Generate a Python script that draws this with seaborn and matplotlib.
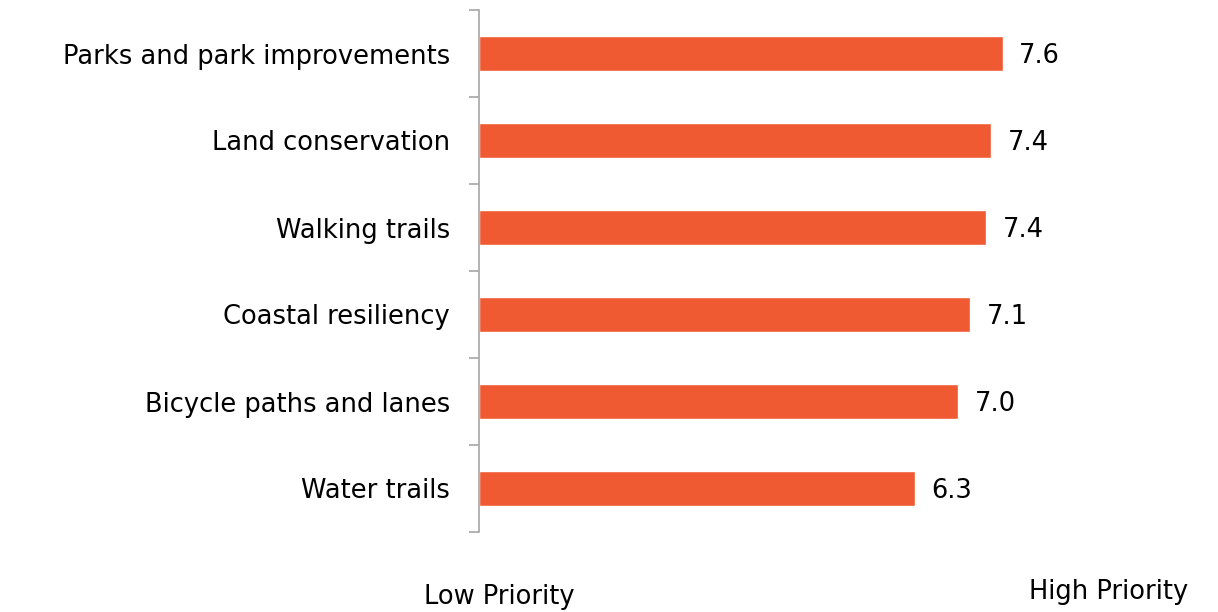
import matplotlib
matplotlib.use("Agg")
import matplotlib.pyplot as plt
import seaborn as sns
import pandas as pd
from matplotlib.ticker import FixedLocator

categories = ["Parks and park improvements", "Land conservation", "Walking trails",
              "Coastal resiliency", "Bicycle paths and lanes", "Water trails"]
values = [7.59, 7.42, 7.35, 7.12, 6.94, 6.32]
value_labels = ["7.6", "7.4", "7.4", "7.1", "7.0", "6.3"]
axis_labels = ["Low Priority", "High Priority"]

sns.set_theme(style="white")
plt.rcParams['font.family'] = ['DejaVu Sans']

df = pd.DataFrame({"category": categories, "value": values})

FS = 18.5
fig = plt.figure(figsize=(12.18, 6.12), dpi=100)
ax = fig.add_axes([479/1218, 1-532/612, (1169-479)/1218, 522/612])
sns.barplot(data=df, y="category", x="value", orient="h", color="#F05A33",
            saturation=1, width=0.4, ax=ax)
ax.set_xlim(0, 10)
ax.set_ylim(len(categories)-0.5, -0.5)
ax.set_xlabel("")
ax.set_ylabel("")
ax.set_xticks([])
for s in ["top", "right", "bottom"]:
    ax.spines[s].set_visible(False)
ax.spines["left"].set_color("#A6A6A6")
ax.spines["left"].set_linewidth(1.2)
ax.yaxis.set_minor_locator(FixedLocator([i-0.5 for i in range(len(categories)+1)]))
ax.tick_params(axis="y", which="minor", left=True, length=7, width=1.2, color="#A6A6A6")
ax.tick_params(axis="y", which="major", left=False, length=0, pad=21, labelsize=FS, labelcolor="black")

for i, (v, t) in enumerate(zip(values, value_labels)):
    ax.text(v + 0.24, i + 0.03, t, va="center", ha="left", fontsize=FS, color="black")

fig.text(499/1218, 1-597/612, axis_labels[0], ha="center", va="center", fontsize=FS, color="black")
fig.text(1109/1218, 1-592/612, axis_labels[1], ha="center", va="center", fontsize=FS, color="black")

fig.savefig("out.png", dpi=100)
